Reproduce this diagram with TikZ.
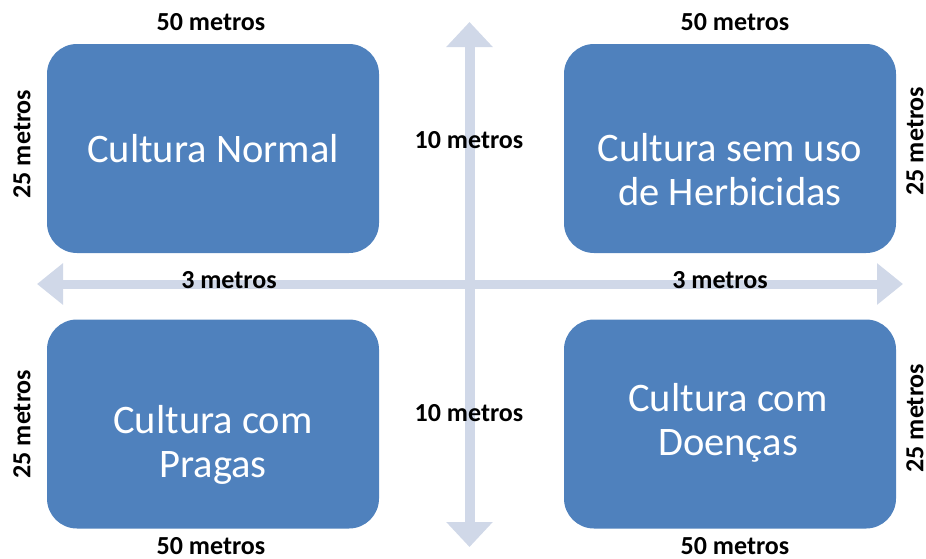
\documentclass[tikz,border=0pt]{standalone}
\usepackage{fontspec}
\setmainfont{Carlito}
\usetikzlibrary{arrows.meta}
\definecolor{boxblue}{HTML}{4F81BD}
\definecolor{arrowgray}{HTML}{D0D8E8}
\tikzset{
  plot/.style={fill=boxblue, draw=none, rounded corners=30pt, minimum width=332pt, minimum height=209pt, inner sep=0pt},
  plottext/.style={text=white, font=\fontsize{40.5}{44}\selectfont, align=center, inner sep=0pt},
  dim/.style={font=\bfseries\fontsize{26}{30}\selectfont, text=black, inner sep=0pt},
  blockarrow/.style={draw=arrowgray, line width=#1},
}
\begin{document}
\begin{tikzpicture}[x=1pt,y=-1pt]
\useasboundingbox (0,0) rectangle (926,558);
% arrows
\coordinate (vt) at (469.5,22);
\coordinate (vb) at (469.5,547);
\coordinate (hl) at (37,284);
\coordinate (hr) at (903,284);
\draw[blockarrow=10pt, {Triangle[length=25pt,width=45pt]}-{Triangle[length=25pt,width=45pt]}] (vt) -- (vb);
\draw[blockarrow=9pt, {Triangle[length=26pt,width=40pt]}-{Triangle[length=26pt,width=40pt]}] (hl) -- (hr);
% plots
\node[plot] (tl) at (213,148.5) {};
\node[plot] (tr) at (730,148.5) {};
\node[plot] (bl) at (213,424) {};
\node[plot] (br) at (730,424) {};
\node[plottext] (tlt) at (213,149) {Cultura Normal};
\node[plottext] (trt) at (730,170) {Cultura sem uso\\de Herbicidas};
\node[plottext] (blt) at (213,445) {Cultura com\\Pragas};
\node[plottext] (brt) at (728,423) {Cultura com\\Doenças};
% dimensions
\node[dim] (t1) at (211,22) {50 metros};
\node[dim] (t2) at (735,22) {50 metros};
\node[dim] (b1) at (211,546) {50 metros};
\node[dim] (b2) at (735,546) {50 metros};
\node[dim, rotate=90] (l1) at (22,144) {25 metros};
\node[dim, rotate=90] (l2) at (22,424) {25 metros};
\node[dim, rotate=90] (r1) at (915,141) {25 metros};
\node[dim, rotate=90] (r2) at (915,418) {25 metros};
\node[dim] (m1) at (469,140) {10 metros};
\node[dim] (m2) at (469,413) {10 metros};
\node[dim] (h1) at (229,280) {3 metros};
\node[dim] (h2) at (720,280) {3 metros};
\end{tikzpicture}
\end{document}
